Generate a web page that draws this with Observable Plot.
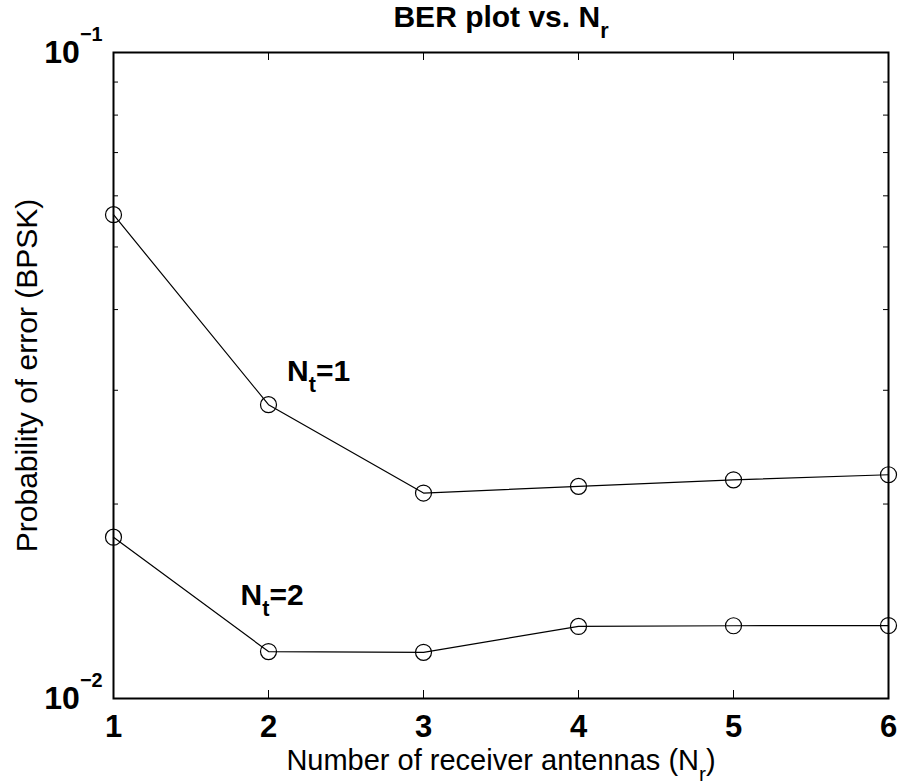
<!DOCTYPE html>
<html>
<head>
<meta charset="utf-8">
<script src="https://cdn.jsdelivr.net/npm/d3@7"></script>
<script src="https://cdn.jsdelivr.net/npm/@observablehq/plot@0.6"></script>
<style>
  html, body { margin: 0; padding: 0; background: #fff; }
  #chart svg { display: block; }
</style>
</head>
<body>
<div id="chart"></div>
<script>
// Number of receive antennas N_r
const antennas = [1, 2, 3, 4, 5, 6];
// Simulated BPSK bit error rate for one and two transmit antennas
const berNt1 = [0.0561, 0.0285, 0.0208, 0.0213, 0.0218, 0.0222];
const berNt2 = [0.01777, 0.01182, 0.01179, 0.01293, 0.01296, 0.01297];

// In-plot curve labels and where they sit (data coordinates)
const curveLabels = ["N_{t}=1", "N_{t}=2"];
const curveLabelX = [2.12, 1.82];
const curveLabelY = [0.0321, 0.01446];

// Axis ticks and their labels
const xTicks = [1, 2, 3, 4, 5, 6];
const yMajorTicks = [0.01, 0.1];
const yTickLabels = ["10^{−2}", "10^{−1}"];
const yMinorTicks = [0.02, 0.03, 0.04, 0.05, 0.06, 0.07, 0.08, 0.09];

const titleText = "BER plot vs. N_{r}";
const xLabelText = "Number of receiver antennas (N_{r})";
const yLabelText = "Probability of error (BPSK)";

// Layout
const W = 901, H = 784;
const M = {top: 52, right: 13, bottom: 86, left: 113};
const frameW = W - M.left - M.right;
const frameH = H - M.top - M.bottom;
const FONT = "'Liberation Sans', Arial, Helvetica, sans-serif";

const rows = [
  ...antennas.map((n, i) => ({n, ber: berNt1[i], series: curveLabels[0]})),
  ...antennas.map((n, i) => ({n, ber: berNt2[i], series: curveLabels[1]}))
];
const labelRows = curveLabels.map((t, i) => ({t, x: curveLabelX[i], y: curveLabelY[i]}));

const chart = Plot.plot({
  width: W,
  height: H,
  marginTop: M.top,
  marginRight: M.right,
  marginBottom: M.bottom,
  marginLeft: M.left,
  style: {fontFamily: FONT, color: "black", background: "white", overflow: "visible"},
  x: {domain: [1, 6], axis: null},
  y: {type: "log", domain: [0.01, 0.1], axis: null},
  marks: [
    // inward tick marks on all four sides
    Plot.tickX(xTicks, {x: d => d, insetTop: frameH - 8, stroke: "black", strokeWidth: 1}),
    Plot.tickX(xTicks, {x: d => d, insetBottom: frameH - 8, stroke: "black", strokeWidth: 1}),
    Plot.tickY(yMinorTicks, {y: d => d, insetRight: frameW - 5, stroke: "black", strokeWidth: 1}),
    Plot.tickY(yMinorTicks, {y: d => d, insetLeft: frameW - 5, stroke: "black", strokeWidth: 1}),
    Plot.axisX({ticks: xTicks, tickFormat: d => String(d), tickSize: 0, tickPadding: 16,
      fontSize: 31, fontWeight: "bold", label: null}),
    Plot.axisY({ticks: yMajorTicks, tickFormat: d => yTickLabels[yMajorTicks.indexOf(d)],
      tickSize: 0, tickPadding: 11, fontSize: 32, fontWeight: "bold", label: null}),
    // BER curves with circle markers
    Plot.line(rows, {x: "n", y: "ber", z: "series", stroke: "black", strokeWidth: 1.2}),
    Plot.dot(rows, {x: "n", y: "ber", r: 8, stroke: "black", strokeWidth: 1.2, fill: "none"}),
    Plot.text(labelRows, {x: "x", y: "y", text: "t", textAnchor: "start",
      fontSize: 30, fontWeight: "bold", fill: "black"}),
    Plot.frame({stroke: "black", strokeWidth: 2}),
    // title and axis titles
    Plot.text([titleText], {text: d => d, frameAnchor: "top", lineAnchor: "top", dy: -47,
      fontSize: 30, fontWeight: "bold", fill: "black"}),
    Plot.text([xLabelText], {text: d => d, frameAnchor: "bottom", lineAnchor: "bottom", dy: 71,
      fontSize: 29, fill: "black"}),
    Plot.text([yLabelText], {text: d => d, frameAnchor: "left", textAnchor: "middle",
      lineAnchor: "middle", rotate: -90, dx: -86, fontSize: 30, fill: "black"})
  ]
});

document.getElementById("chart").appendChild(chart);

// Turn TeX-like _{...} and ^{...} into sub/superscript tspans
function applyScripts(svg) {
  const NS = "http://www.w3.org/2000/svg";
  svg.querySelectorAll("text, tspan").forEach(el => {
    if (el.children.length) return;
    const s = el.textContent;
    if (!/[_^]\{/.test(s)) return;
    const fs = parseFloat(getComputedStyle(el).fontSize);
    const re = /([_^])\{([^}]*)\}/g;
    const parts = [];
    let last = 0, m;
    while ((m = re.exec(s))) {
      if (m.index > last) parts.push({t: s.slice(last, m.index)});
      parts.push({t: m[2], kind: m[1]});
      last = re.lastIndex;
    }
    if (last < s.length) parts.push({t: s.slice(last)});
    el.textContent = "";
    let offset = 0;
    for (const p of parts) {
      const ts = document.createElementNS(NS, "tspan");
      ts.textContent = p.t;
      let shift = 0;
      if (p.kind === "_") {
        ts.setAttribute("font-size", fs * 0.72);
        shift = 0.38 * fs;
      } else if (p.kind === "^") {
        ts.setAttribute("font-size", fs * 0.62);
        shift = -0.68 * fs;
      }
      const dy = shift - offset;
      if (dy) ts.setAttribute("dy", dy);
      offset = shift;
      el.appendChild(ts);
    }
  });
}
applyScripts(chart);
</script>
</body>
</html>
